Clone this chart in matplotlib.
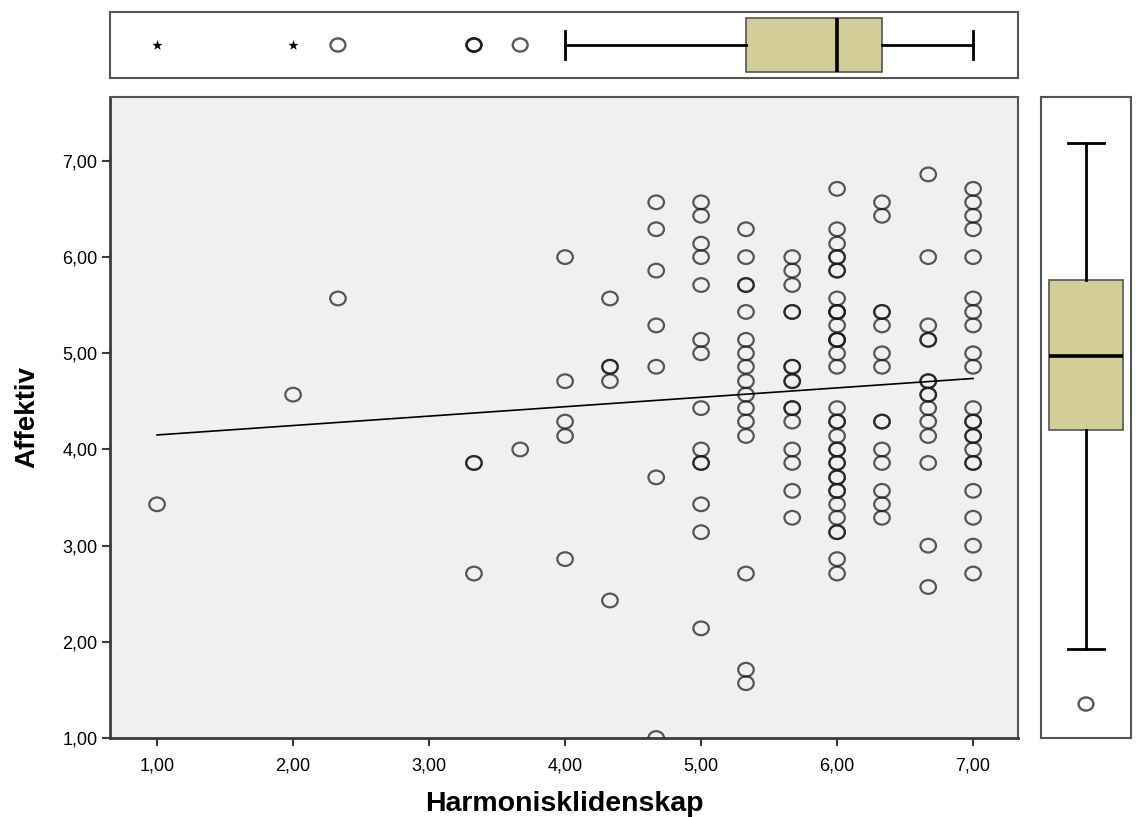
import matplotlib
matplotlib.use("Agg")
import matplotlib.pyplot as plt
import numpy as np
from matplotlib.path import Path
from matplotlib.ticker import FuncFormatter

# Harmonisklidenskap levels and the Affektiv scores observed at each level
harmonisk_levels = [1.00, 2.00, 2.33, 3.33, 3.67, 4.00, 4.33, 4.67,
                    5.00, 5.33, 5.67, 6.00, 6.33, 6.67, 7.00]
affektiv_by_level = [
    [3.43],
    [4.57],
    [5.57],
    [3.86, 3.86, 2.71],
    [4.00],
    [6.00, 4.71, 4.29, 4.14, 2.86],
    [5.57, 4.86, 4.86, 4.71, 2.43],
    [6.57, 6.29, 5.86, 5.29, 4.86, 3.71, 1.00],
    [6.57, 6.43, 6.14, 6.00, 5.71, 5.14, 5.00, 4.43, 4.00, 3.86, 3.86,
     3.43, 3.14, 2.14],
    [6.29, 6.00, 5.71, 5.71, 5.43, 5.14, 5.00, 4.86, 4.71, 4.57, 4.43,
     4.29, 4.14, 2.71, 1.71, 1.57],
    [6.00, 5.86, 5.71, 5.43, 5.43, 4.86, 4.86, 4.71, 4.71, 4.43, 4.43,
     4.29, 4.00, 3.86, 3.57, 3.29],
    [6.71, 6.29, 6.14, 6.00, 6.00, 5.86, 5.86, 5.57, 5.43, 5.43, 5.43,
     5.29, 5.14, 5.14, 5.14, 5.00, 4.86, 4.43, 4.29, 4.29, 4.14, 4.00,
     4.00, 3.86, 3.86, 3.71, 3.71, 3.57, 3.57, 3.43, 3.29, 3.14, 3.14,
     2.86, 2.71],
    [6.57, 6.43, 5.43, 5.43, 5.29, 5.00, 4.86, 4.29, 4.29, 4.00, 3.86,
     3.57, 3.43, 3.29],
    [6.86, 6.00, 5.29, 5.14, 5.14, 4.71, 4.71, 4.57, 4.57, 4.43, 4.29,
     4.14, 3.86, 3.00, 2.57],
    [6.71, 6.57, 6.43, 6.29, 6.00, 5.57, 5.43, 5.29, 5.00, 4.86, 4.43,
     4.29, 4.29, 4.14, 4.14, 4.00, 3.86, 3.86, 3.57, 3.29, 3.00, 2.71],
]

x = np.concatenate([[lv] * len(ys) for lv, ys in zip(harmonisk_levels, affektiv_by_level)])
y = np.concatenate(affektiv_by_level)

plt.rcParams['font.family'] = ['Liberation Sans', 'DejaVu Sans']

box_color = '#d3ce97'
spine_color = '#3c3c3c'
ring_color = (0.1, 0.1, 0.1, 0.72)
comma_fmt = FuncFormatter(lambda v, pos: f"{v:.2f}".replace('.', ','))

# slightly flattened ring, like the SPSS point marker
circ = Path.unit_circle()
ring = Path(circ.vertices * [1.0, 0.88], circ.codes)

fig = plt.figure(figsize=(11.36, 8.17), dpi=100)
W, H = 1136, 817
ax = fig.add_axes([110 / W, 1 - 738 / H, 908 / W, 641 / H])
ax_top = fig.add_axes([110 / W, 1 - 78 / H, 908 / W, 66 / H])
ax_right = fig.add_axes([1041 / W, 1 - 738 / H, 90 / W, 641 / H])

# scatter with regression line
ax.set_facecolor('#f0f0f0')
ax.scatter(x, y, s=125, marker=ring, facecolors='none', edgecolors=ring_color,
           linewidths=1.6, zorder=3)
slope, intercept = np.polyfit(x, y, 1)
xl = np.array([x.min(), x.max()])
ax.plot(xl, intercept + slope * xl, color='black', lw=1.2, zorder=4)

ax.set_xlim(0.654, 7.33)
ax.set_ylim(1.0, 7.665)
ax.set_xticks(range(1, 8))
ax.set_yticks(range(1, 8))
ax.xaxis.set_major_formatter(comma_fmt)
ax.yaxis.set_major_formatter(comma_fmt)
ax.tick_params(direction='out', length=6, width=1.5, color=spine_color,
               labelsize=13, pad=3)
ax.tick_params(axis='x', pad=8)
for side in ['top', 'right']:
    ax.spines[side].set_color('#555555')
    ax.spines[side].set_linewidth(1.5)
for side in ['left', 'bottom']:
    ax.spines[side].set_color(spine_color)
    ax.spines[side].set_linewidth(2)
ax.set_xlabel('Harmonisklidenskap', fontsize=20.5, fontweight='bold', labelpad=12)
ax.set_ylabel('Affektiv', fontsize=20, fontweight='bold', labelpad=16)


def draw_box(bax, data, horizontal):
    q1, med, q3 = np.percentile(data, [25, 50, 75])
    iqr = q3 - q1
    bp = bax.boxplot(data, orientation='horizontal' if horizontal else 'vertical',
                     widths=0.83, capwidths=0.41, patch_artist=True,
                     showfliers=False, whis=1.5)
    for b in bp['boxes']:
        b.set_facecolor(box_color)
        b.set_edgecolor('#555555')
        b.set_linewidth(1.2)
    for m in bp['medians']:
        m.set_color('black')
        m.set_linewidth(2.6)
    for w in bp['whiskers'] + bp['caps']:
        w.set_color('black')
        w.set_linewidth(2)
    # SPSS style: circles for outliers, stars for extreme values
    lo, hi = q1 - 1.5 * iqr, q3 + 1.5 * iqr
    ext_lo, ext_hi = q1 - 3 * iqr - 1e-6, q3 + 3 * iqr + 1e-6
    out = data[(data < lo) | (data > hi)]
    ext = out[(out < ext_lo) | (out > ext_hi)]
    mild = out[(out >= ext_lo) & (out <= ext_hi)]
    pos_m = np.ones(len(mild))
    pos_e = np.ones(len(ext))
    if horizontal:
        pts_m, pts_e = (mild, pos_m), (ext, pos_e)
    else:
        pts_m, pts_e = (pos_m, mild), (pos_e, ext)
    bax.scatter(*pts_m, s=115, marker=ring, facecolors='none',
                edgecolors=ring_color, linewidths=1.7)
    bax.scatter(*pts_e, s=60, marker='*', color='black', linewidths=0)
    bax.set_xticks([])
    bax.set_yticks([])
    for sp in bax.spines.values():
        sp.set_color('#555555')
        sp.set_linewidth(1.5)


draw_box(ax_top, x, horizontal=True)
ax_top.set_xlim(0.654, 7.33)
ax_top.set_ylim(0.5, 1.5)

draw_box(ax_right, y, horizontal=False)
ax_right.set_xlim(0.5, 1.5)
ax_right.set_ylim(0.645, 7.34)

fig.savefig('out.png', dpi=100)
